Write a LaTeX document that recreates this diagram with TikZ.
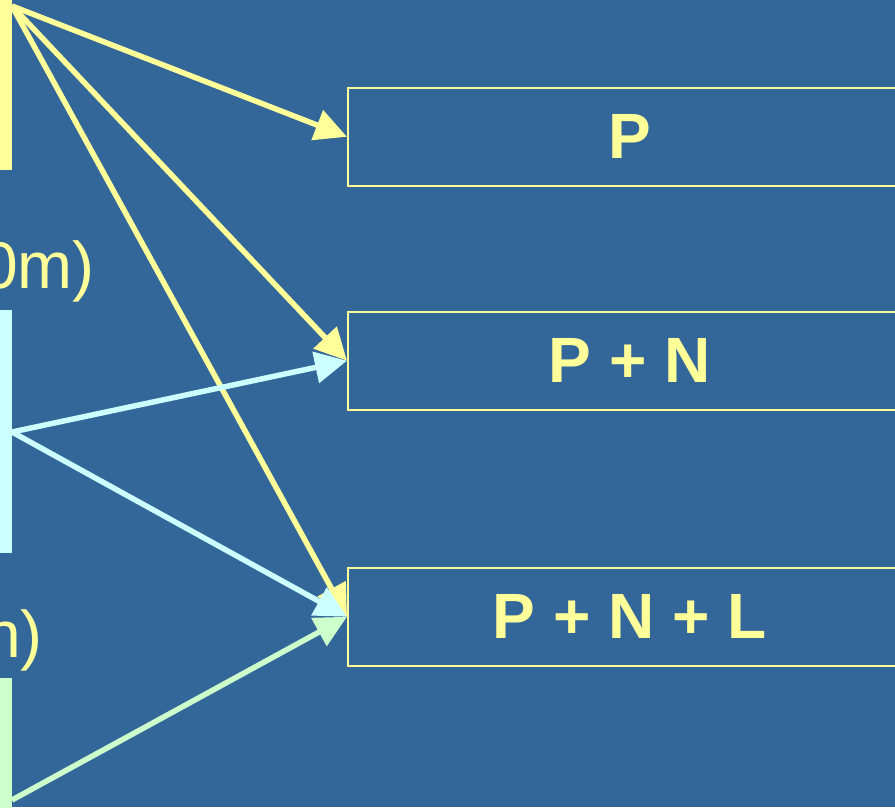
\documentclass[tikz,border=0pt]{standalone}
\usepackage{fontspec}
\setmainfont{Liberation Sans}
\usetikzlibrary{arrows.meta}
\definecolor{bgblue}{HTML}{336699}
\definecolor{ylw}{HTML}{FFFF99}
\definecolor{cyn}{HTML}{CCFFFF}
\definecolor{grn}{HTML}{CCFFCC}
\begin{document}
\begin{tikzpicture}[x=1pt,y=-1pt,
  bar/.style={fill=#1,draw=none,inner sep=0pt,anchor=north west,minimum width=12pt},
  target/.style={draw=ylw,line width=1.5pt,anchor=north west,minimum width=564pt,minimum height=98pt,inner sep=0pt,
     text=ylw,font=\fontsize{64}{70}\selectfont\bfseries},
  conn/.style={draw=#1,line width=5.5pt,-{Triangle[length=32pt,width=31pt]}},
  lbl/.style={text=ylw,font=\fontsize{66}{70}\selectfont,inner sep=0pt,anchor=base east}]
\useasboundingbox[fill=bgblue] (0,0) rectangle (895,807);
% left bars
\node[bar=ylw,minimum height=180pt] (ybar) at (0,-10) {};
\node[bar=cyn,minimum height=243pt] (cbar) at (0,310) {};
\node[bar=grn,minimum height=140pt] (gbar) at (0,678) {};
% partial labels
\node[lbl] (l1) at (95,288) {0m)};
\node[lbl] (l2) at (43,657) {n)};
% target boxes
\node[target] (b1) at (347,87) {P};
\node[target] (b2) at (347,311) {P + N};
\node[target] (b3) at (347,567) {P + N + L};
% start points
\coordinate (ys) at (12,6);
\coordinate (cs) at (12,432);
\coordinate (gs) at (12,800);
% connectors
\draw[conn=ylw] (ys) -- (b1.west);
\draw[conn=ylw] (ys) -- (b2.west);
\draw[conn=ylw] (ys) -- (b3.west);
\draw[conn=cyn] (cs) -- (b2.west);
\draw[conn=cyn] (cs) -- (b3.west);
\draw[conn=grn] (gs) -- (b3.west);
\end{tikzpicture}
\end{document}
